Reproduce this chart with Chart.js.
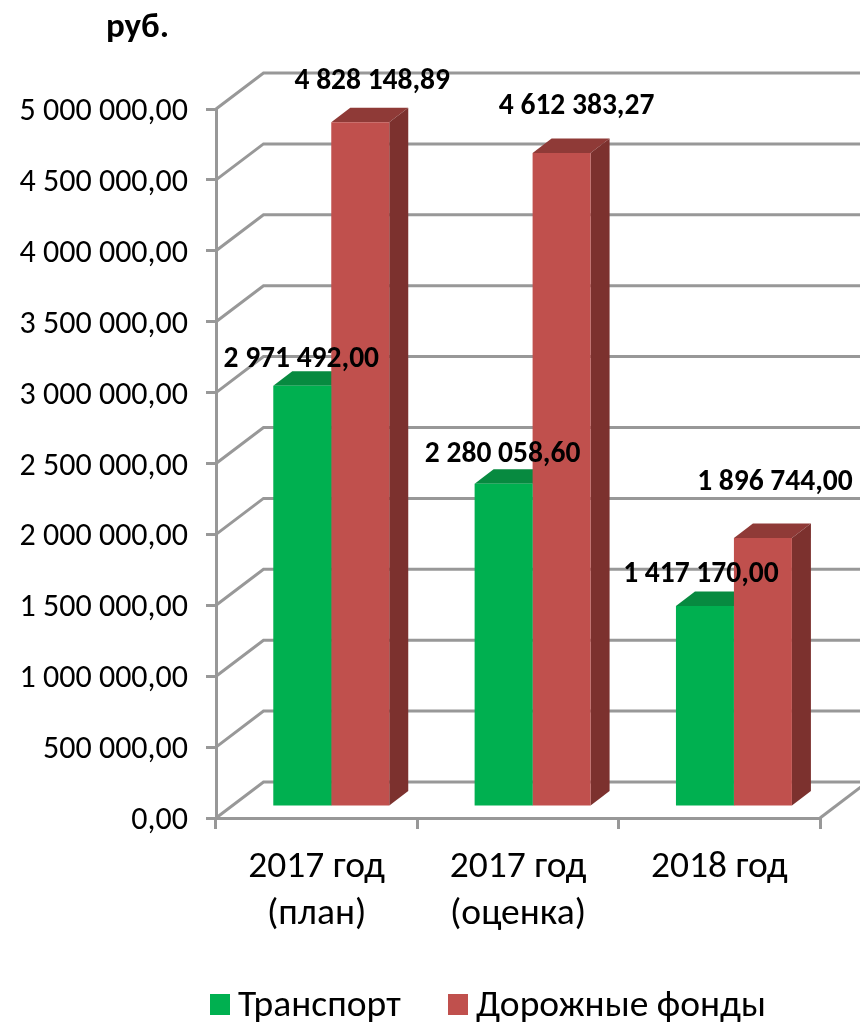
<!DOCTYPE html>
<html>
<head>
<meta charset="utf-8">
<title>Транспорт и дорожные фонды</title>
<script src="https://cdn.jsdelivr.net/npm/chart.js@4"></script>
<style>
    html, body { margin: 0; padding: 0; background: #fff; }
    canvas { display: block; }
</style>
</head>
<body>
<canvas id="chart" width="860" height="1022"></canvas>
<script>
// Chart data
const categories = [['2017 год', '(план)'], ['2017 год', '(оценка)'], ['2018 год']];
const transport = [2971492.00, 2280058.60, 1417170.00];
const roadFunds = [4828148.89, 4612383.27, 1896744.00];
const unitLabel = 'руб.';

const FONT = 'Carlito, Lato, "Open Sans", sans-serif';
const GRID_COLOR = '#989898';

// Oblique offset of the back wall and of the bars inside the box
const WALL_DX = 47.5, WALL_DY = -36;
const BAR_DX = 14.6, BAR_DY = -11;
const DEPTH_DX = 19, DEPTH_DY = -14.5;

// Hand placed data labels, offset from the middle of the bar top
const labelOffsets = [
    [[-1, -26], [-1, -29], [-4, -31]],
    [[12, -41], [15, -46], [12, -55]]
];

const faceColors = [
    { top: '#078a40', side: '#067a38' },
    { top: '#8f3a37', side: '#7c312e' }
];

// Legend is placed by hand, the library keeps too wide a gap after the swatch
const legendX = [210, 448];

function formatRub(value) {
    const [whole, frac] = value.toFixed(2).split('.');
    return whole.replace(/\B(?=(\d{3})+(?!\d))/g, ' ') + ',' + frac;
}

function polygon(ctx, pts, fill) {
    ctx.beginPath();
    pts.forEach((p, i) => i ? ctx.lineTo(p[0], p[1]) : ctx.moveTo(p[0], p[1]));
    ctx.closePath();
    ctx.fillStyle = fill;
    ctx.fill();
}

// Draws the walls, the floor and the hidden faces of the bars
const box3d = {
    id: 'box3d',
    beforeDatasetsDraw(chart) {
        const { ctx, chartArea, scales } = chart;
        ctx.save();
        ctx.strokeStyle = GRID_COLOR;
        ctx.lineWidth = 3;
        scales.y.ticks.forEach(tick => {
            const y = scales.y.getPixelForValue(tick.value);
            ctx.beginPath();
            ctx.moveTo(chartArea.left, y);
            ctx.lineTo(chartArea.left + WALL_DX, y + WALL_DY);
            ctx.lineTo(chartArea.right + WALL_DX, y + WALL_DY);
            ctx.stroke();
        });
        ctx.beginPath();
        ctx.moveTo(chartArea.right, chartArea.bottom);
        ctx.lineTo(chartArea.right + WALL_DX, chartArea.bottom + WALL_DY);
        ctx.stroke();
        ctx.restore();

        // Bars are shifted into the box until afterDatasetsDraw
        ctx.save();
        ctx.translate(BAR_DX, BAR_DY);
        chart.data.datasets.forEach((ds, i) => {
            chart.getDatasetMeta(i).data.forEach(bar => {
                const l = bar.x - bar.width / 2, r = bar.x + bar.width / 2;
                polygon(ctx, [[l, bar.y], [l + DEPTH_DX, bar.y + DEPTH_DY],
                    [r + DEPTH_DX, bar.y + DEPTH_DY], [r, bar.y]], faceColors[i].top);
                polygon(ctx, [[r, bar.y], [r + DEPTH_DX, bar.y + DEPTH_DY],
                    [r + DEPTH_DX, bar.base + DEPTH_DY], [r, bar.base]], faceColors[i].side);
            });
        });
    },
    afterDatasetsDraw(chart) {
        const { ctx } = chart;
        ctx.restore();

        ctx.save();
        ctx.font = 'bold 29.5px ' + FONT;
        ctx.fillStyle = '#000';
        ctx.textAlign = 'center';
        ctx.textBaseline = 'middle';
        chart.data.datasets.forEach((ds, i) => {
            chart.getDatasetMeta(i).data.forEach((bar, j) => {
                const off = labelOffsets[i][j];
                ctx.fillText(formatRub(ds.data[j]), bar.x + BAR_DX + off[0], bar.y + BAR_DY + off[1]);
            });
        });
        ctx.font = 'bold 35px ' + FONT;
        ctx.textAlign = 'left';
        ctx.fillText(unitLabel, 106, 28);

        // Legend
        ctx.font = '37.5px ' + FONT;
        chart.data.datasets.forEach((ds, i) => {
            ctx.fillStyle = ds.backgroundColor;
            ctx.fillRect(legendX[i], 994, 20, 21);
            ctx.fillStyle = '#000';
            ctx.fillText(ds.label, legendX[i] + 28, 1007);
        });
        ctx.restore();
    }
};

new Chart(document.getElementById('chart'), {
    type: 'bar',
    data: {
        labels: categories,
        datasets: [
            { label: 'Транспорт', data: transport, backgroundColor: '#00B050' },
            { label: 'Дорожные фонды', data: roadFunds, backgroundColor: '#C0504D' }
        ]
    },
    options: {
        responsive: false,
        animation: false,
        devicePixelRatio: 1,
        datasets: { bar: { barPercentage: 1, categoryPercentage: 0.576 } },
        layout: { padding: { left: 0, right: 40, top: 109, bottom: 0 } },
        plugins: {
            tooltip: { enabled: false },
            legend: { display: false }
        },
        scales: {
            x: {
                afterFit(scale) { scale.height = 204; },
                border: { color: GRID_COLOR, width: 3 },
                grid: { drawOnChartArea: false, color: GRID_COLOR, lineWidth: 3, tickLength: 11 },
                ticks: {
                    color: '#000',
                    maxRotation: 0,
                    padding: 15,
                    font: { family: FONT, size: 37.5, lineHeight: 1.25 }
                }
            },
            y: {
                min: 0,
                max: 5000000,
                afterFit(scale) { scale.width = 216; },
                border: { color: GRID_COLOR, width: 3 },
                grid: { drawOnChartArea: false, color: GRID_COLOR, lineWidth: 3, tickLength: 10 },
                ticks: {
                    stepSize: 500000,
                    color: '#000',
                    padding: 18,
                    // empty first line pushes the text a few px below the tick
                    font: { family: FONT, size: 32, lineHeight: '6px' },
                    callback: value => ['', formatRub(value)]
                }
            }
        }
    },
    plugins: [box3d]
});
</script>
</body>
</html>
